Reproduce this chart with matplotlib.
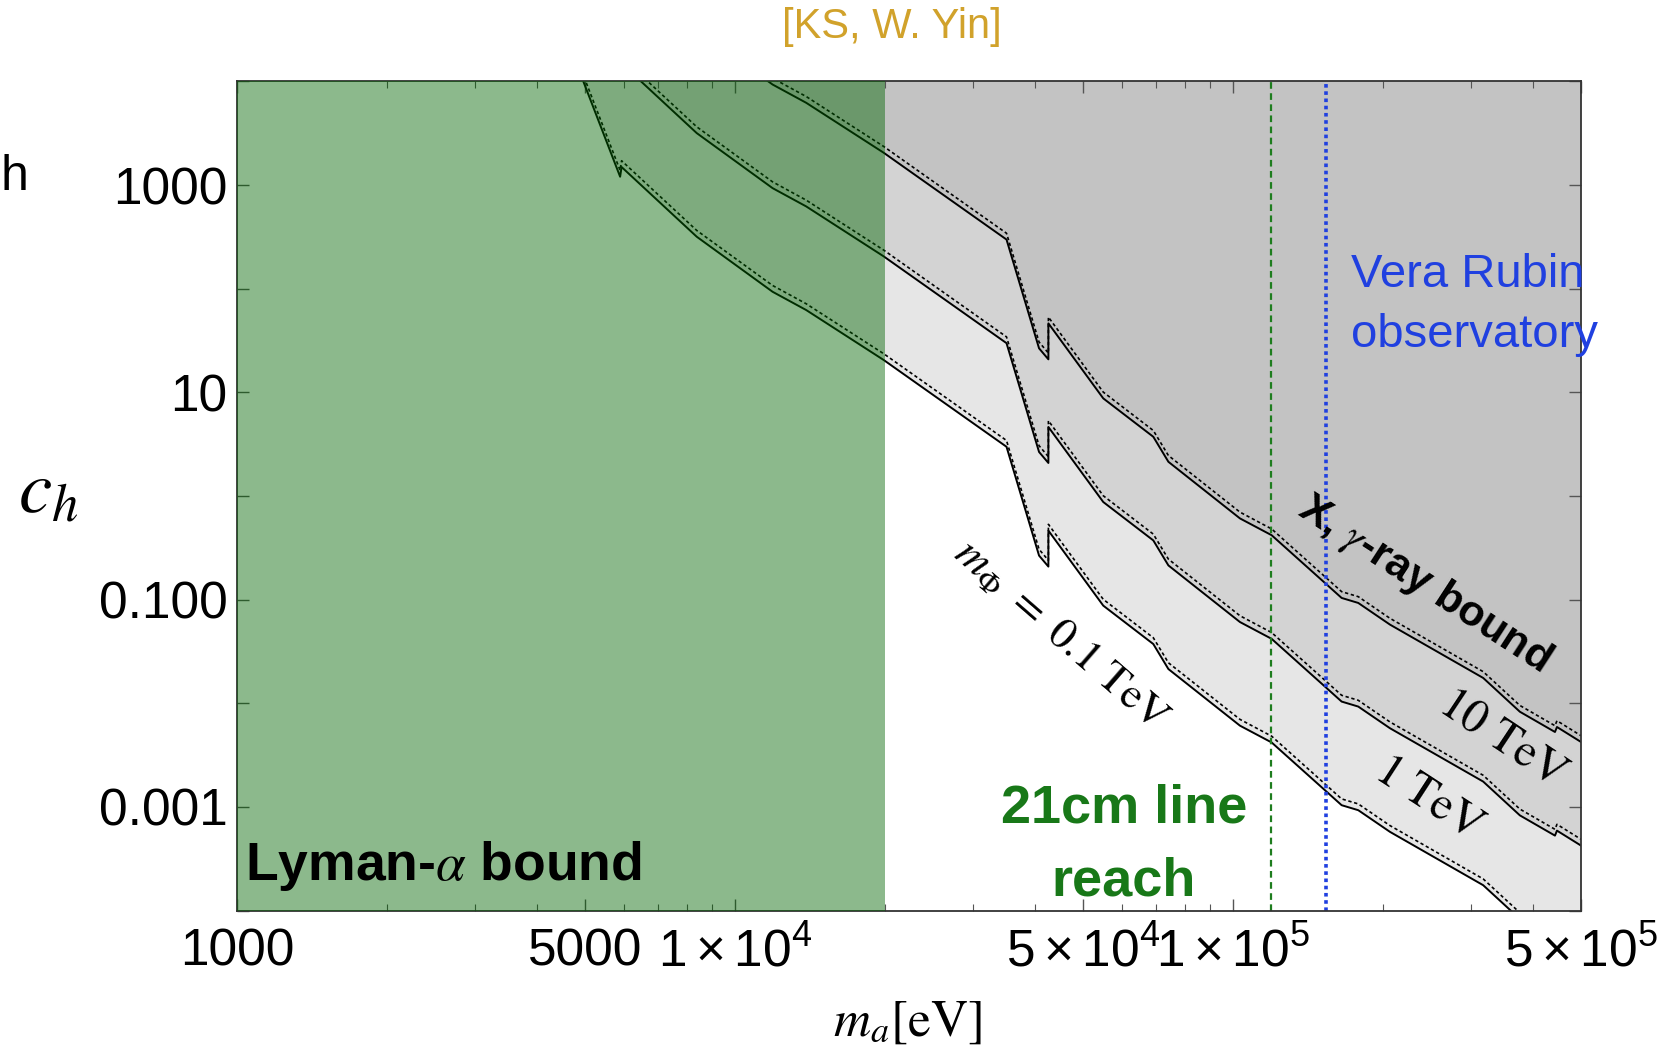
import matplotlib
matplotlib.use('Agg')
import matplotlib.pyplot as plt
import numpy as np
from matplotlib.ticker import NullLocator, NullFormatter

plt.rcParams['font.family'] = ['Liberation Sans', 'DejaVu Sans']
plt.rcParams['mathtext.fontset'] = 'custom'
plt.rcParams['mathtext.rm'] = 'Liberation Sans'
plt.rcParams['mathtext.it'] = 'Liberation Sans:italic'
plt.rcParams['mathtext.bf'] = 'Liberation Sans:bold'

# axion mass m_a [eV], shared by all three curves
ma = [4930, 5880, 5920, 8380, 11900, 13900, 19900, 35100, 40800, 42600, 42600,
      54900, 69200, 74200, 103300, 119600, 153000, 165300, 178500, 206700,
      318100, 376900, 443300, 447400, 500000]

# c_h bound for m_phi = 0.1, 1, 10 TeV
ch_01 = [1.08e4, 1205, 1495, 317.6, 93.5, 62.3, 20.5, 2.985, 0.266, 0.2083, 0.4634,
         0.0875, 0.03727, 0.02138, 0.006077, 0.004183, 0.001449, 0.001038, 0.000929,
         0.000574, 1.754e-4, 8.28e-5, 5.28e-5, 5.9e-5, 4.23e-5]
ch_1 = [1.08e5, 12050, 14950, 3176, 935, 623, 205, 29.85, 2.66, 2.083, 4.634,
        0.875, 0.3727, 0.2138, 0.06077, 0.04183, 0.01449, 0.01038, 0.00929,
        0.00574, 1.754e-3, 8.28e-4, 5.28e-4, 5.9e-4, 4.23e-4]
ch_10 = [1.08e6, 1.205e5, 1.495e5, 31760, 9350, 6230, 2050, 298.5, 26.6, 20.83, 46.34,
         8.75, 3.727, 2.138, 0.6077, 0.4183, 0.1449, 0.1038, 0.0929,
         0.0574, 0.01754, 0.00828, 0.00528, 0.0059, 0.00423]

curves = [ch_01, ch_1, ch_10]
fill_colors = ['#e6e6e6', '#d3d3d3', '#c3c3c3']

lyman_max = 2.0e4
line_21cm = 1.19e5
rubin = 1.54e5

x_major = [1e3, 5e3, 1e4, 5e4, 1e5, 5e5]
x_major_labels = ['1000', '5000', r'$\mathregular{1\times10^{4}}$', r'$\mathregular{5\times10^{4}}$',
                  r'$\mathregular{1\times10^{5}}$', r'$\mathregular{5\times10^{5}}$']
x_minor = [2e3, 3e3, 4e3, 6e3, 7e3, 8e3, 9e3, 2e4, 3e4, 4e4, 6e4, 7e4, 8e4, 9e4,
           2e5, 3e5, 4e5]
y_major = [1e-4, 1e-3, 1e-2, 1e-1, 1, 10, 100, 1e3, 1e4]
y_major_labels = ['', '0.001', '', '0.100', '', '10', '', '1000', '']

fig = plt.figure(figsize=(16.6, 10.49), dpi=100)
ax = fig.add_axes([0.14277, 0.13203, 0.80964, 0.79028])
ax.set_xscale('log')
ax.set_yscale('log')

for ch, fc in zip(curves, fill_colors):
    xs = np.array(ma, dtype=float)
    ys = np.array(ch, dtype=float)
    px = np.r_[xs, 1e6, 1e6, xs[0]]
    py = np.r_[ys, ys[-1], 1e7, 1e7]
    ax.fill(px, py, color=fc, lw=0, zorder=1)

for ch in curves:
    ys = np.array(ch, dtype=float)
    ax.plot(ma, ys, color='black', lw=1.4, zorder=2)
    ax.plot(ma, ys * 1.15, color='black', lw=1.2, ls=(0, (2, 1.6)), zorder=2)

ax.axvline(line_21cm, color='#1e7d1e', lw=1.6, ls=(0, (3, 2)), zorder=2.2)
ax.axvline(rubin, color='#2040e0', lw=2.6, ls=(0, (1, 1)), zorder=2.2)

ax.axvspan(1e3, lyman_max, color=(0, 100 / 255, 0), alpha=0.45, lw=0, zorder=3)

ax.set_xlim(1e3, 5e5)
ax.set_ylim(1e-4, 1e4)

ax.set_xticks(x_major)
ax.set_xticklabels(x_major_labels)
ax.set_xticks(x_minor, minor=True)
ax.xaxis.set_minor_formatter(NullFormatter())
ax.set_yticks(y_major)
ax.set_yticklabels(y_major_labels)
ax.yaxis.set_minor_locator(NullLocator())

ax.tick_params(which='both', direction='in', top=True, right=True, color='#555555')
ax.tick_params(which='major', length=8.6, width=1.0, labelsize=37)
ax.tick_params(which='minor', length=4.7, width=0.8)
ax.tick_params(axis='x', which='major', pad=12)
ax.tick_params(axis='y', which='major', pad=7)

for sp in ax.spines.values():
    sp.set_linewidth(1.3)
    sp.set_color('#333333')

# labels inside the plot
ax.text(1040, 2.7e-4, r'Lyman-$\alpha$ bound', fontsize=38.5, fontweight='bold',
        ha='left', va='center', math_fontfamily='stix', zorder=4)
ax.text(60400, 9.7e-4, '21cm line', fontsize=39, fontweight='bold', color='#187818',
        ha='center', va='center', zorder=4)
ax.text(60400, 1.92e-4, 'reach', fontsize=39, fontweight='bold', color='#187818',
        ha='center', va='center', zorder=4)
ax.text(172600, 135.6, 'Vera Rubin', fontsize=34, color='#2040e0',
        ha='left', va='center', zorder=4, clip_on=False)
ax.text(172600, 35.7, 'observatory', fontsize=34, color='#2040e0',
        ha='left', va='center', zorder=4, clip_on=False)
ax.text(241800, 0.141, r'X, $\gamma$-ray bound', fontsize=31, fontweight='bold',
        rotation=-33, rotation_mode='anchor', ha='center', va='center',
        math_fontfamily='stix', zorder=4)
ax.text(348400, 4.6e-3, r'$\mathrm{10\ TeV}$', fontsize=34, rotation=-33.6,
        rotation_mode='anchor', ha='center', va='center', math_fontfamily='stix', zorder=4)
ax.text(247500, 1.19e-3, r'$\mathrm{1\ TeV}$', fontsize=34, rotation=-33,
        rotation_mode='anchor', ha='center', va='center', math_fontfamily='stix', zorder=4)
ax.text(45300, 0.0454, r'$m_\Phi\ =\ 0.1\ \mathrm{TeV}$', fontsize=32, rotation=-41,
        rotation_mode='anchor', ha='center', va='center', math_fontfamily='stix', zorder=4)

fig.text(0.0289, 0.53, r'$c_h$', fontsize=54, ha='center', va='center',
         math_fontfamily='stix')
fig.text(0.5464, 0.0257, r'$m_a[\mathrm{eV}]$', fontsize=37, ha='center', va='center',
         math_fontfamily='stix')
fig.text(892 / 1660, 1 - 27 / 1049, '[KS, W. Yin]', fontsize=30, color='#d1a22b',
         ha='center', va='center')
fig.text(1 / 1660, 1 - 177 / 1049, 'h', fontsize=36, ha='left', va='center')

fig.savefig('out.png', dpi=100)
